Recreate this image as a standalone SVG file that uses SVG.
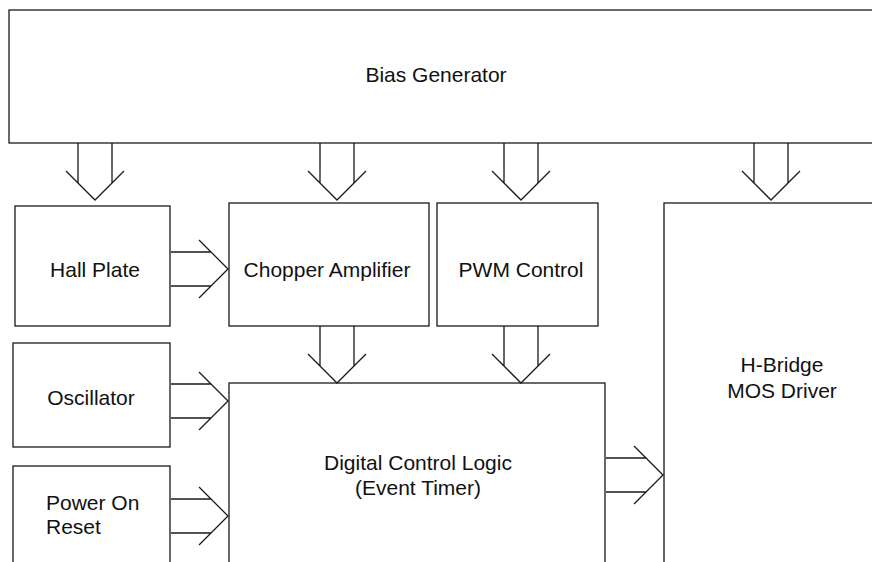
<svg xmlns="http://www.w3.org/2000/svg" width="872" height="562" viewBox="0 0 872 562">
<style>
.box{fill:#fff;stroke:#1a1a1a;stroke-width:1.3}
.lbl{font-family:"Liberation Sans",Arial,sans-serif;font-size:21px;fill:#111;text-anchor:middle}
.arr{fill:none;stroke:#1a1a1a;stroke-width:1.3}
</style>
<defs>
<path id="down" d="M-17,-57 V-17 M17,-57 V-17 M-29,-29 L0,0 L29,-29"/>
<path id="right" d="M-57,-17 H-17 M-57,17 H-17 M-29,-29 L0,0 L-29,29"/>
</defs>
<rect width="872" height="562" fill="#fff"/>
<g id="bias"><rect class="box" x="9" y="10" width="900" height="133"/><text class="lbl" x="436" y="82">Bias Generator</text></g>
<g id="hall"><rect class="box" x="15" y="206" width="155" height="120"/><text class="lbl" x="95" y="277">Hall Plate</text></g>
<g id="chopper"><rect class="box" x="229" y="203" width="200" height="123"/><text class="lbl" x="327" y="277">Chopper Amplifier</text></g>
<g id="pwm"><rect class="box" x="437" y="203" width="161" height="123"/><text class="lbl" x="521" y="277">PWM Control</text></g>
<g id="hbridge"><rect class="box" x="664" y="203" width="300" height="400"/><text class="lbl" x="782" y="372">H-Bridge</text><text class="lbl" x="782" y="398">MOS Driver</text></g>
<g id="osc"><rect class="box" x="13" y="343" width="157" height="104"/><text class="lbl" x="91" y="405">Oscillator</text></g>
<g id="por"><rect class="box" x="13" y="466" width="157" height="200"/><text class="lbl" x="46" y="510" style="text-anchor:start">Power On</text><text class="lbl" x="46" y="534" style="text-anchor:start">Reset</text></g>
<g id="digital"><rect class="box" x="229" y="383" width="376" height="200"/><text class="lbl" x="418" y="470">Digital Control Logic</text><text class="lbl" x="418" y="495">(Event Timer)</text></g>
<g id="connectors" class="arr">
<use href="#down" x="95" y="200"/>
<use href="#down" x="337" y="200"/>
<use href="#down" x="521" y="200"/>
<use href="#down" x="771" y="200"/>
<use href="#down" x="337" y="383"/>
<use href="#down" x="521" y="383"/>
<use href="#right" x="228" y="269"/>
<use href="#right" x="228" y="401"/>
<use href="#right" x="228" y="516"/>
<use href="#right" x="663" y="475"/>
</g>
</svg>
